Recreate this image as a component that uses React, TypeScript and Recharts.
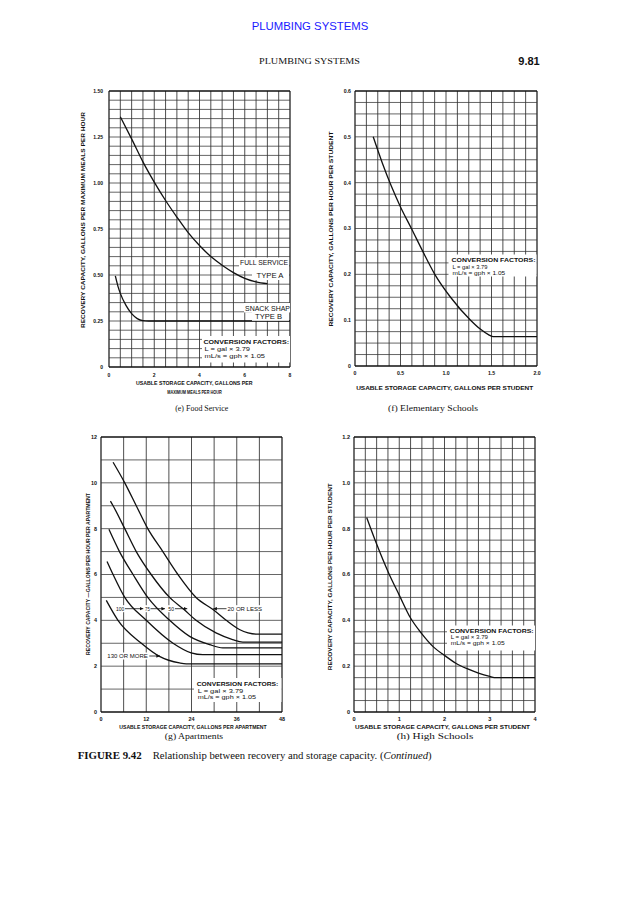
import React from 'react';
import { LineChart, Line, XAxis, YAxis, ReferenceLine } from 'recharts';

type Pt = { x: number; y: number };

// ---------- (e) Food Service ----------
const foodXTicks = [0, 2, 4, 6, 8];
const foodYTicks = [0, 0.25, 0.5, 0.75, 1.0, 1.25, 1.5];
const foodTypeA: Pt[] = [
  { x: 0.5, y: 1.36 }, { x: 1.0, y: 1.24 }, { x: 1.5, y: 1.115 }, { x: 2.0, y: 1.005 },
  { x: 2.5, y: 0.905 }, { x: 3.0, y: 0.815 }, { x: 3.5, y: 0.73 }, { x: 4.0, y: 0.66 },
  { x: 4.5, y: 0.6 }, { x: 5.0, y: 0.553 }, { x: 5.5, y: 0.513 }, { x: 6.0, y: 0.482 },
  { x: 6.5, y: 0.463 }, { x: 7.0, y: 0.453 },
];
const foodTypeB: Pt[] = [
  { x: 0.28, y: 0.495 }, { x: 0.4, y: 0.437 }, { x: 0.5, y: 0.4 }, { x: 0.75, y: 0.335 },
  { x: 1.0, y: 0.29 }, { x: 1.25, y: 0.263 }, { x: 1.5, y: 0.252 }, { x: 1.75, y: 0.25 },
  { x: 8.0, y: 0.25 },
];

// ---------- (f) Elementary Schools ----------
const elemXTicks = [0, 0.5, 1.0, 1.5, 2.0];
const elemYTicks = [0, 0.1, 0.2, 0.3, 0.4, 0.5, 0.6];
const elemCurve: Pt[] = [
  { x: 0.2, y: 0.5 }, { x: 0.3, y: 0.443 }, { x: 0.4, y: 0.392 }, { x: 0.5, y: 0.347 },
  { x: 0.62, y: 0.3 }, { x: 0.745, y: 0.25 }, { x: 0.877, y: 0.2 }, { x: 1.05, y: 0.15 },
  { x: 1.27, y: 0.1 }, { x: 1.38, y: 0.08 }, { x: 1.47, y: 0.068 }, { x: 1.52, y: 0.064 },
  { x: 2.0, y: 0.064 },
];

// ---------- (g) Apartments ----------
const aptXTicks = [0, 12, 24, 36, 48];
const aptYTicks = [0, 2, 4, 6, 8, 10, 12];
const apt20OrLess: Pt[] = [
  { x: 3.2, y: 10.9 }, { x: 6.3, y: 10 }, { x: 9.35, y: 9 }, { x: 12.4, y: 8 },
  { x: 16.4, y: 7 }, { x: 20.4, y: 6 }, { x: 25.2, y: 5 }, { x: 29.8, y: 4.46 },
  { x: 33.2, y: 4 }, { x: 36.7, y: 3.6 }, { x: 39.0, y: 3.45 }, { x: 41.1, y: 3.4 },
  { x: 48, y: 3.4 },
];
const apt50: Pt[] = [
  { x: 2.5, y: 9.2 }, { x: 3.2, y: 9 }, { x: 6.3, y: 8 }, { x: 9.35, y: 7 },
  { x: 13.3, y: 6 }, { x: 18.2, y: 5 }, { x: 22.1, y: 4.46 }, { x: 25.2, y: 4 },
  { x: 30.5, y: 3.45 }, { x: 34.9, y: 3.16 }, { x: 37.6, y: 3.05 }, { x: 48, y: 3.05 },
];
const apt75: Pt[] = [
  { x: 2.1, y: 7.97 }, { x: 4.9, y: 7 }, { x: 8.5, y: 6 }, { x: 12.4, y: 5 },
  { x: 18.2, y: 4 }, { x: 23.5, y: 3.3 }, { x: 28.8, y: 2.94 }, { x: 32.3, y: 2.8 },
  { x: 48, y: 2.8 },
];
const apt100: Pt[] = [
  { x: 1.6, y: 6.57 }, { x: 3.2, y: 6 }, { x: 6.3, y: 5 }, { x: 12.0, y: 4 },
  { x: 19.1, y: 3 }, { x: 23.9, y: 2.58 }, { x: 27.0, y: 2.5 }, { x: 48, y: 2.5 },
];
const apt130OrMore: Pt[] = [
  { x: 1.4, y: 4.87 }, { x: 4.5, y: 4 }, { x: 10.7, y: 3 }, { x: 15.5, y: 2.43 },
  { x: 20.8, y: 2.14 }, { x: 22.6, y: 2.1 }, { x: 48, y: 2.1 },
];

// ---------- (h) High Schools ----------
const highXTicks = [0, 1, 2, 3, 4];
const highYTicks = [0, 0.2, 0.4, 0.6, 0.8, 1.0, 1.2];
const highCurve: Pt[] = [
  { x: 0.28, y: 0.849 }, { x: 0.5, y: 0.733 }, { x: 0.76, y: 0.609 }, { x: 1.0, y: 0.51 },
  { x: 1.25, y: 0.41 }, { x: 1.5, y: 0.341 }, { x: 1.76, y: 0.283 }, { x: 2.0, y: 0.247 },
  { x: 2.25, y: 0.213 }, { x: 2.5, y: 0.189 }, { x: 2.75, y: 0.17 }, { x: 3.0, y: 0.155 },
  { x: 3.1, y: 0.15 }, { x: 4.0, y: 0.15 },
];

const SANS = '"Liberation Sans", Arial, sans-serif';
const SERIF = '"Liberation Serif", "Times New Roman", serif';

const gridValues = (max: number, step: number) => {
  const out: number[] = [];
  const n = Math.round(max / step);
  for (let i = 0; i <= n; i++) out.push(+(i * step).toFixed(5));
  return out;
};

const AX_W = 40;
const TOP = 6;
const RIGHT = 6;
const AX_H = 24;

type PanelProps = {
  px: number; py: number; pw: number; ph: number;
  xMax: number; yMax: number; xTicks: number[]; yTicks: number[];
  xStep: number; yStep: number;
  xFmt: (v: number) => string; yFmt: (v: number) => string;
  series: Pt[][]; fs: number; yGap: number; xGap: number;
};

function Panel(p: PanelProps) {
  const gx = gridValues(p.xMax, p.xStep);
  const gy = gridValues(p.yMax, p.yStep);
  const tick = { fontSize: p.fs, fontWeight: 700, fill: '#111', fontFamily: SANS };
  return (
    <div style={{ position: 'absolute', left: p.px - AX_W, top: p.py - TOP }}>
      <LineChart
        width={p.pw + AX_W + RIGHT}
        height={p.ph + TOP + AX_H}
        margin={{ top: TOP, right: RIGHT, bottom: 0, left: 0 }}
      >
        <XAxis
          type="number" dataKey="x" domain={[0, p.xMax]} ticks={p.xTicks} interval={0}
          allowDataOverflow axisLine={false} tickLine={false} tickSize={p.xGap} tickMargin={2}
          height={AX_H} tickFormatter={p.xFmt} tick={tick}
        />
        <YAxis
          type="number" dataKey="y" domain={[0, p.yMax]} ticks={p.yTicks} interval={0}
          allowDataOverflow axisLine={false} tickLine={false} tickSize={p.yGap} tickMargin={2}
          width={AX_W} tickFormatter={p.yFmt} tick={tick}
        />
        {gx.map((v, i) => (
          <ReferenceLine key={'gx' + i} x={v} stroke="#222"
            strokeWidth={i === 0 || i === gx.length - 1 ? 1.3 : 0.8} />
        ))}
        {gy.map((v, i) => (
          <ReferenceLine key={'gy' + i} y={v} stroke={i === 0 || i === gy.length - 1 ? '#111' : '#333'}
            strokeWidth={i === 0 || i === gy.length - 1 ? 1.3 : 0.75} />
        ))}
        {p.series.map((s, i) => (
          <Line key={'s' + i} data={s} dataKey="y" type="monotone" dot={false} activeDot={false}
            stroke="#111" strokeWidth={1.3} isAnimationActive={false} />
        ))}
      </LineChart>
    </div>
  );
}

type TProps = {
  x: number; y: number; children: React.ReactNode; size?: number; anchor?: string;
  weight?: number; family?: string; len?: number; fill?: string; rot?: boolean; italic?: boolean;
};
function T({ x, y, children, size = 6, anchor = 'middle', weight = 400, family = SANS, len, fill = '#111', rot, italic }: TProps) {
  return (
    <text
      x={x} y={y} fontSize={size} textAnchor={anchor as any} dominantBaseline="central"
      fontWeight={weight} fontFamily={family} fill={fill} fontStyle={italic ? 'italic' : 'normal'}
      textLength={len} lengthAdjust={len ? 'spacingAndGlyphs' : undefined}
      transform={rot ? `rotate(-90 ${x} ${y})` : undefined}
    >
      {children}
    </text>
  );
}

function ConvBox({ x, y, w, h, tx, y1, y2, y3, l1, l2, l3 }: any) {
  return (
    <g>
      <rect x={x} y={y} width={w} height={h} fill="#fff" />
      <T x={tx} y={y1} anchor="start" size={6.2} weight={700} len={l1}>CONVERSION FACTORS:</T>
      <T x={tx + 1} y={y2} anchor="start" size={5.6} len={l2}>L = gal × 3.79</T>
      <T x={tx + 1} y={y3} anchor="start" size={5.6} len={l3}>mL/s = gph × 1.05</T>
    </g>
  );
}

function Tag({ x, y, len, children }: any) {
  return (
    <g>
      <rect x={x - 1} y={y - 3.5} width={len + 2} height={7} fill="#fff" />
      <T x={x} y={y} size={5.2} anchor="start" len={len}>{children}</T>
    </g>
  );
}

function Arrow({ x1, x2, y }: any) {
  return <line x1={x1} y1={y} x2={x2} y2={y} stroke="#111" strokeWidth={0.8} markerEnd="url(#ah)" />;
}

const f2 = (v: number) => (v === 0 ? '0' : v.toFixed(2));
const f1 = (v: number) => (v === 0 ? '0' : v.toFixed(1));
const f0 = (v: number) => String(v);

export default function App() {
  return (
    <div style={{ position: 'absolute', left: 0, top: 0, width: 618, height: 900, background: '#fff', overflow: 'hidden' }}>
      <Panel px={109} py={91} pw={181} ph={276} xMax={8} yMax={1.5} xTicks={foodXTicks} yTicks={foodYTicks}
        xStep={0.5} yStep={0.05} xFmt={f0} yFmt={f2} series={[foodTypeA, foodTypeB]} fs={5} yGap={4} xGap={4} />
      <Panel px={355} py={91} pw={182} ph={275} xMax={2} yMax={0.6} xTicks={elemXTicks} yTicks={elemYTicks}
        xStep={0.125} yStep={0.025} xFmt={f1} yFmt={f1} series={[elemCurve]} fs={5.2} yGap={2} xGap={3} />
      <Panel px={101} py={437} pw={181} ph={275} xMax={48} yMax={12} xTicks={aptXTicks} yTicks={aptYTicks}
        xStep={6} yStep={1} xFmt={f0} yFmt={f0} series={[apt20OrLess, apt50, apt75, apt100, apt130OrMore]} fs={5.4} yGap={2} xGap={3} />
      <Panel px={354} py={437} pw={181} ph={275} xMax={4} yMax={1.2} xTicks={highXTicks} yTicks={highYTicks}
        xStep={0.25} yStep={0.05} xFmt={f0} yFmt={f1} series={[highCurve]} fs={5.6} yGap={2} xGap={3} />

      <svg width={618} height={900} style={{ position: 'absolute', left: 0, top: 0 }}>
        <defs>
          <marker id="ah" viewBox="0 0 6 6" refX="6" refY="3" markerWidth="4.5" markerHeight="4.5" orient="auto">
            <path d="M0,0 L6,3 L0,6 z" fill="#111" />
          </marker>
        </defs>

        {/* page header */}
        <T x={310} y={25.5} size={10.5} fill="#1a1aff" len={116.5}>PLUMBING SYSTEMS</T>
        <T x={309.5} y={60.7} size={9.2} family={SERIF} len={101}>PLUMBING SYSTEMS</T>
        <T x={529} y={60.5} size={11} weight={700} len={21.5}>9.81</T>

        {/* (e) Food Service */}
        <T x={82.7} y={220} size={5} weight={700} len={216} rot>RECOVERY CAPACITY, GALLONS PER MAXIMUM MEALS PER HOUR</T>
        <T x={194.3} y={382.7} size={5} weight={700} len={116.5}>USABLE STORAGE CAPACITY, GALLONS PER</T>
        <T x={194.5} y={391.7} size={5} weight={700} len={54.5}>MAXIMUM MEALS PER HOUR</T>
        <T x={201.7} y={408.3} size={9} family={SERIF} len={53}>(e) Food Service</T>
        <rect x={239} y={257.5} width={50} height={13.5} fill="#fff" />
        <rect x={252} y={270} width={37} height={10} fill="#fff" />
        <T x={264} y={262.3} size={6.5} len={48}>FULL SERVICE</T>
        <T x={270} y={275.5} size={6.5} len={27}>TYPE A</T>
        <rect x={244} y={303} width={46} height={9.5} fill="#fff" />
        <rect x={252} y={311.8} width={37} height={9} fill="#fff" />
        <T x={267.5} y={308} size={6.5} len={45}>SNACK SHAP</T>
        <T x={268.5} y={316.3} size={6.5} len={27}>TYPE B</T>
        <ConvBox x={202} y={336} w={88} h={26.5} tx={203.5} y1={341.5} y2={349.3} y3={355.6} l1={85.5} l2={45.5} l3={60.5} />

        {/* (f) Elementary Schools */}
        <T x={330.7} y={229} size={5} weight={700} len={195} rot>RECOVERY CAPACITY, GALLONS PER HOUR PER STUDENT</T>
        <T x={444.7} y={388.3} size={5} weight={700} len={177}>USABLE STORAGE CAPACITY, GALLONS PER STUDENT</T>
        <T x={433} y={408.3} size={9} family={SERIF} len={90}>(f) Elementary Schools</T>
        <ConvBox x={448.5} y={254.5} w={88} h={22} tx={451.5} y1={259.7} y2={266.8} y3={273} l1={84} l2={35} l3={52.7} />

        {/* (g) Apartments */}
        <T x={88.3} y={574} size={4.8} weight={700} len={162} rot>RECOVERY CAPACITY —GALLONS PER HOUR PER APARTMENT</T>
        <T x={193} y={727} size={4.8} weight={700} len={147.4}>USABLE STORAGE CAPACITY, GALLONS PER APARTMENT</T>
        <T x={194} y={736.3} size={9} family={SERIF} len={58.3}>(g) Apartments</T>
        <ConvBox x={194} y={678} w={87.5} h={24} tx={196.7} y1={683.7} y2={691} y3={697} l1={81.6} l2={45.6} l3={58.3} />
        {/* curve labels */}
        <Tag x={116} y={608.7} len={8.3}>100</Tag>
        <Arrow x1={125} x2={143.3} y={608.7} />
        <Tag x={145} y={608.7} len={4.8}>75</Tag>
        <Arrow x1={150.5} x2={165} y={608.7} />
        <Tag x={168.3} y={608.7} len={5.7}>50</Tag>
        <Arrow x1={175} x2={187.3} y={608.7} />
        <Tag x={227.5} y={608.7} len={34.5}>20 OR LESS</Tag>
        <Arrow x1={226.5} x2={213.3} y={608.7} />
        <Tag x={107.3} y={656} len={40.5}>130 OR MORE</Tag>
        <Arrow x1={149.3} x2={160} y={656} />

        {/* (h) High Schools */}
        <T x={330} y={576.7} size={5} weight={700} len={187} rot>RECOVERY CAPACITY, GALLONS PER HOUR PER STUDENT</T>
        <T x={442.5} y={727} size={5} weight={700} len={175}>USABLE STORAGE CAPACITY, GALLONS PER STUDENT</T>
        <T x={435} y={736.3} size={9} family={SERIF} len={76.6}>(h) High Schools</T>
        <ConvBox x={447} y={625.5} w={88} h={25} tx={449.7} y1={630.7} y2={637.3} y3={643} l1={84} l2={37.3} l3={54} />

        {/* figure caption */}
        <T x={77.7} y={755} size={9.8} family={SERIF} weight={700} anchor="start" len={64}>FIGURE 9.42</T>
        <text x={152.7} y={755} fontSize={9.8} fontFamily={SERIF} fill="#111" dominantBaseline="central"
          textLength={279} lengthAdjust="spacingAndGlyphs">
          Relationship between recovery and storage capacity. (<tspan fontStyle="italic">Continued</tspan>)
        </text>
      </svg>
    </div>
  );
}
